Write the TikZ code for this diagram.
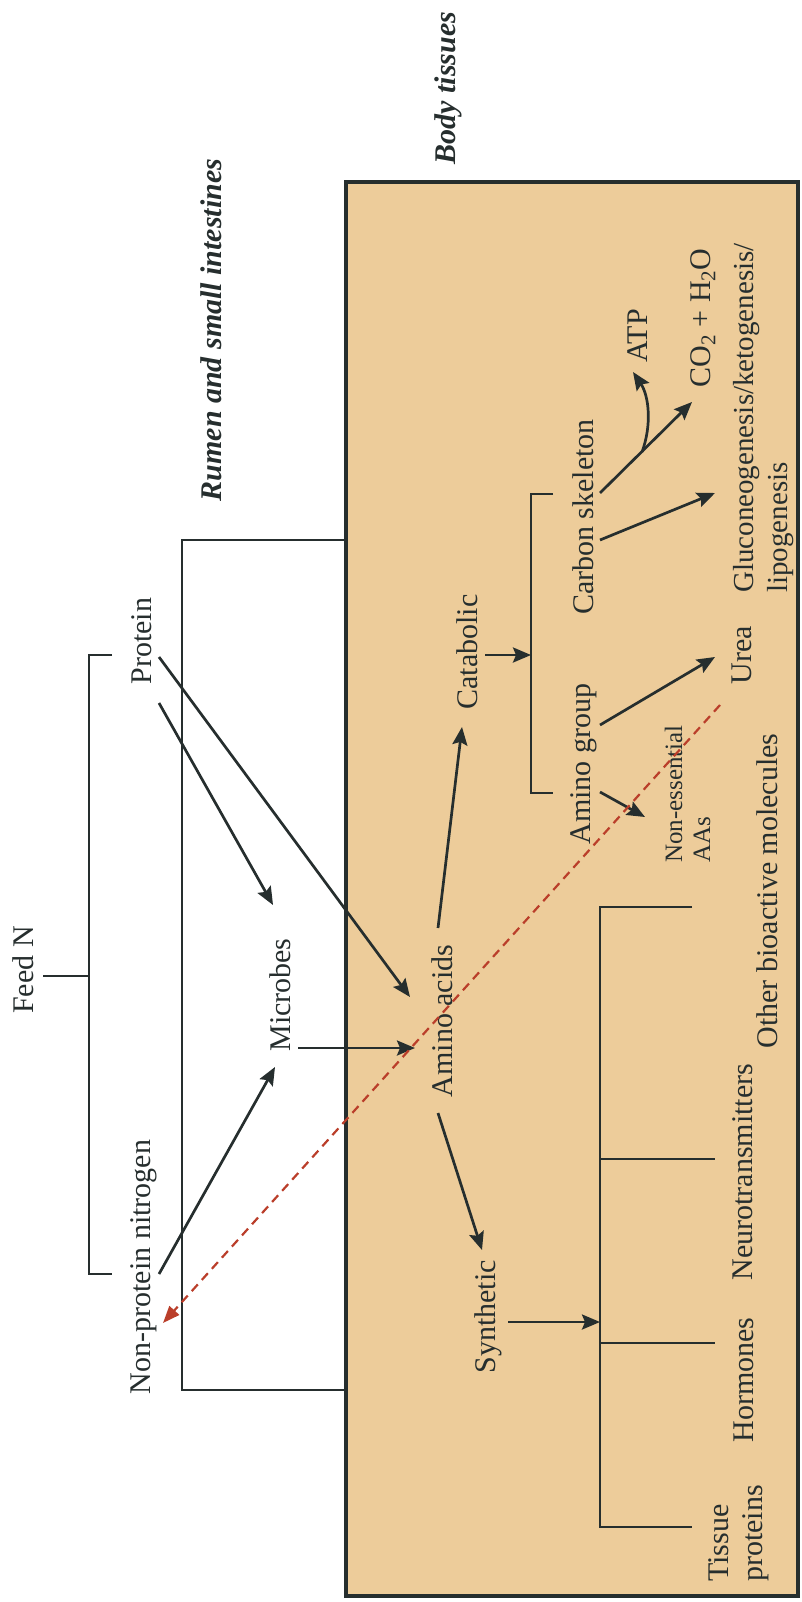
\documentclass[tikz,border=0pt]{standalone}
\usepackage{fontspec}
\setmainfont{Liberation Serif}
\usetikzlibrary{arrows.meta}
\definecolor{tanfill}{RGB}{237,204,154}
\definecolor{ink}{RGB}{38,46,46}
\definecolor{redash}{RGB}{186,62,42}
\begin{document}
\begin{tikzpicture}[x=1pt,y=-1pt,
  lbl/.style={rotate=90,anchor=base,inner sep=0pt,text=ink,font=\fontsize{30}{34}\selectfont},
  hd/.style={lbl,font=\bfseries\itshape\fontsize{30}{34}\selectfont},
  sml/.style={lbl,font=\fontsize{25}{28}\selectfont},
  arr/.style={draw=ink,line width=2.7pt,-{Stealth[length=18pt,width=15pt,inset=3pt]}},
  brk/.style={draw=ink,line width=2pt},
  redarr/.style={draw=redash,line width=2.2pt,dash pattern=on 9pt off 6pt,-{Triangle[length=17pt,width=13pt]}}]
\useasboundingbox (0,0) rectangle (802,1602);
% body tissues box
\draw[fill=tanfill,draw=ink,line width=4pt] (346,182) rectangle (798,1596);
% headings
\node[hd] (body) at (455,88) {Body tissues};
\node[hd] (rumen) at (221,330) {Rumen and small intestines};
% labels
\node[lbl] (feedn) at (33,970) {Feed N};
\node[lbl] (protein) at (151,641) {Protein};
\node[lbl] (npn) at (150,1267) {Non-protein nitrogen};
\node[lbl] (microbes) at (290,995) {Microbes};
\node[lbl] (aa) at (452,1021) {Amino acids};
\node[lbl] (catab) at (477,652) {Catabolic};
\node[lbl] (synth) at (495,1317) {Synthetic};
\node[lbl] (carbon) at (593,517) {Carbon skeleton};
\node[lbl] (amgrp) at (590,764) {Amino group};
\node[lbl] (urea) at (751,655) {Urea};
\node[lbl] (co2) at (710,318) {CO\textsubscript{2} + H\textsubscript{2}O};
\node[lbl] (atp) at (647,336) {ATP};
\node[lbl] (other) at (777,891) {Other bioactive molecules};
\node[lbl] (neuro) at (752,1172) {Neurotransmitters};
\node[lbl] (horm) at (753,1380) {Hormones};
\node[lbl,anchor=base west,font=\fontsize{29}{34}\selectfont] (gluco) at (753,593) {Gluconeogenesis/ketogenesis/};
\node[lbl,anchor=base west,font=\fontsize{29}{34}\selectfont] (lipo) at (787,593) {lipogenesis};
\node[lbl,anchor=base west] (tissue) at (728,1582) {Tissue};
\node[lbl,anchor=base west] (tprot) at (762,1582) {proteins};
\node[sml,anchor=base west] (nessA) at (682,863) {Non-essential};
\node[sml,anchor=base west] (nessB) at (710,863) {AAs};
% brackets
\draw[brk] (112,655) -- (89,655) -- (89,1274) -- (112,1274);
\draw[brk] (43,976) -- (89,976);
\draw[brk] (346,540) -- (182,540) -- (182,1390) -- (346,1390);
\draw[brk] (553,494) -- (531,494) -- (531,793) -- (553,793);
\draw[brk] (692,907) -- (600,907) -- (600,1527) -- (692,1527);
\draw[brk] (600,1159) -- (715,1159);
\draw[brk] (600,1343) -- (715,1343);
% arrow end points
\coordinate (p1) at (159,657);  \coordinate (p1e) at (410,997);
\coordinate (p2) at (159,703);  \coordinate (p2e) at (273,905);
\coordinate (n1) at (159,1274); \coordinate (n1e) at (275,1067);
\coordinate (m1) at (298,1048); \coordinate (m1e) at (415,1048);
\coordinate (a1) at (438,928);  \coordinate (a1e) at (462,727);
\coordinate (a2) at (438,1113); \coordinate (a2e) at (482,1250);
\coordinate (c1) at (485,655);  \coordinate (c1e) at (531,655);
\coordinate (s1) at (508,1322); \coordinate (s1e) at (600,1322);
\coordinate (k1) at (600,493);  \coordinate (k1e) at (692,402);
\coordinate (t1) at (642,452);  \coordinate (t1e) at (633,372);
\coordinate (k2) at (600,540);  \coordinate (k2e) at (715,493);
\coordinate (g1) at (600,725);  \coordinate (g1e) at (715,657);
\coordinate (g2) at (600,792);  \coordinate (g2e) at (645,817);
\coordinate (r1) at (720,705);  \coordinate (r1e) at (163,1323);
% arrows
\draw[arr] (p1) -- (p1e);
\draw[arr] (p2) -- (p2e);
\draw[arr] (n1) -- (n1e);
\draw[arr] (m1) -- (m1e);
\draw[arr] (a1) -- (a1e);
\draw[arr] (a2) -- (a2e);
\draw[arr] (c1) -- (c1e);
\draw[arr] (s1) -- (s1e);
\draw[arr] (k1) -- (k1e);
\draw[arr] (t1) .. controls (652,425) and (649,396) .. (t1e);
\draw[arr] (k2) -- (k2e);
\draw[arr] (g1) -- (g1e);
\draw[arr] (g2) -- (g2e);
\draw[redarr] (r1) -- (r1e);
\end{tikzpicture}
\end{document}
